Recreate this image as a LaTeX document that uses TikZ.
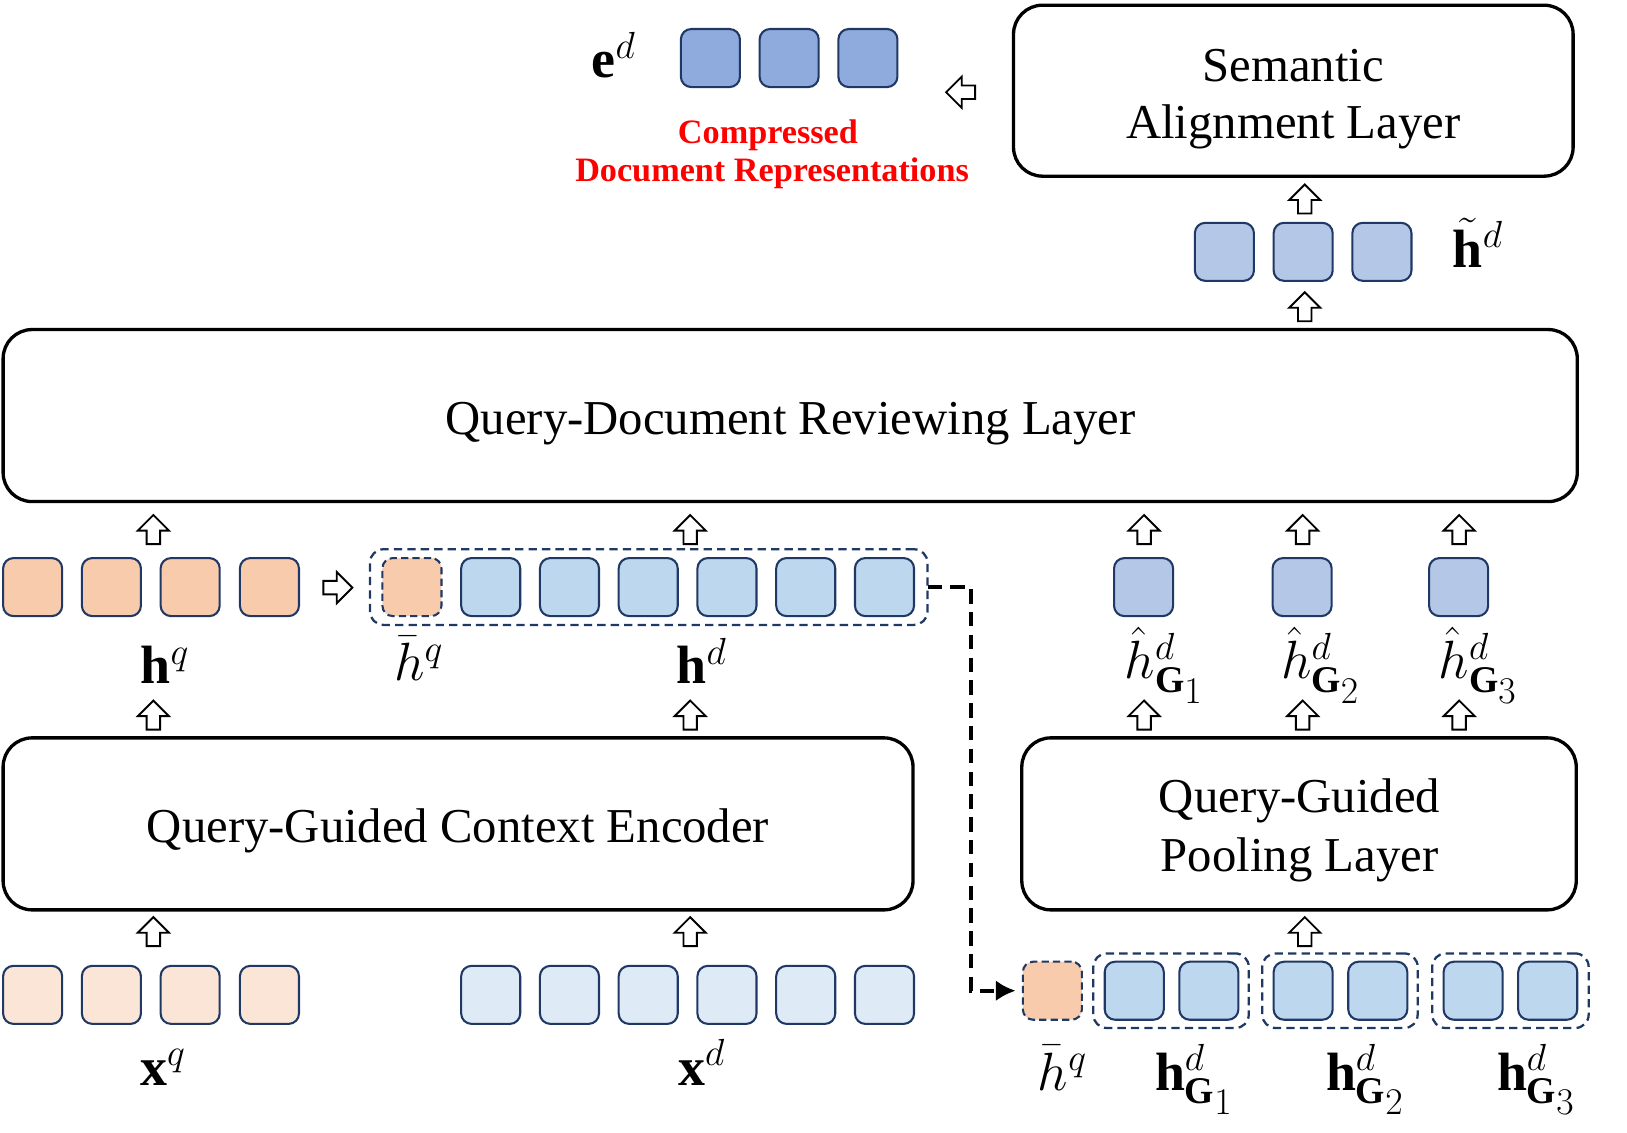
\RequirePackage{fix-cm}
\documentclass[tikz,border=0pt]{standalone}
\usepackage{amsmath}
\usepackage{fontspec}
\setmainfont{Liberation Serif}
\usetikzlibrary{arrows.meta}
\definecolor{navy}{HTML}{203864}
\definecolor{orangeA}{HTML}{F8CBAD}
\definecolor{orangeB}{HTML}{FBE5D6}
\definecolor{blueA}{HTML}{BDD7EE}
\definecolor{blueB}{HTML}{DEEBF7}
\definecolor{blueC}{HTML}{B4C7E7}
\definecolor{blueD}{HTML}{8FAADC}
\newcommand{\grpsub}[1]{\mathbf{G}_{\scriptstyle #1}}
\tikzset{
  tok/.style={draw=navy, line width=2pt, rounded corners=10pt, minimum width=57pt, minimum height=56pt, inner sep=0pt, outer sep=0pt},
  tokd/.style={tok, dash pattern=on 7pt off 4pt},
  layer/.style={draw=black, line width=3.2pt, rounded corners=28pt, inner sep=0pt, outer sep=0pt},
  ltext/.style={font=\fontsize{47}{57}\selectfont, anchor=base, inner sep=0pt},
  grp/.style={draw=navy, line width=2.2pt, dash pattern=on 8pt off 5pt, rounded corners=13pt, inner sep=0pt, outer sep=0pt},
  lab/.style={font=\fontsize{52}{62}\selectfont, anchor=base, inner sep=0pt},
  redt/.style={font=\fontsize{33}{38}\selectfont\bfseries, text=red, anchor=base, inner sep=0pt},
  conn/.style={line width=3.6pt, dash pattern=on 14pt off 8pt, -{Latex[length=19pt,width=20pt]}},
  blk/.style={line width=1.8pt, fill=white, line join=miter, miter limit=10},
  uparr/.pic={\draw[blk] (-6.5,14) -- (-6.5,1) -- (-15,1) -- (0,-14) -- (15,1) -- (6.5,1) -- (6.5,14) -- cycle;},
  rightarr/.pic={\draw[blk] (-14,-6.5) -- (-1,-6.5) -- (-1,-15) -- (14,0) -- (-1,15) -- (-1,6.5) -- (-14,6.5) -- cycle;},
  leftarr/.pic={\draw[blk] (14,-6.5) -- (1,-6.5) -- (1,-15) -- (-14,0) -- (1,15) -- (1,6.5) -- (14,6.5) -- cycle;}
}
\begin{document}
\begin{tikzpicture}[x=1pt,y=-1pt]
\useasboundingbox (0,0) rectangle (1570,1093);
% ---------- layers ----------
\node[layer, minimum width=540pt, minimum height=165pt] (sal) at (1248,87.5) {};
\node[ltext] (salt1) at (1248,79) {Semantic};
\node[ltext] (salt2) at (1248,134) {Alignment Layer};
\node[layer, minimum width=1519pt, minimum height=166pt] (qdr) at (762.5,401) {};
\node[ltext] (qdrt) at (763,419) {Query-Document Reviewing Layer};
\node[layer, minimum width=878pt, minimum height=166pt] (enc) at (442,795) {};
\node[ltext] (enct) at (442,813) {Query-Guided Context Encoder};
\node[layer, minimum width=535pt, minimum height=166pt] (pool) at (1253.5,795) {};
\node[ltext] (poolt1) at (1254,784) {Query-Guided};
\node[ltext] (poolt2) at (1254,841) {Pooling Layer};
% ---------- top: compressed representations ----------
\foreach \i/\x in {1/685.5,2/761.5,3/837.5}
  \node[tok, fill=blueD] (ed\i) at (\x,56) {};
\node[lab] (edl) at (592,75) {$\mathbf{e}^{d}$};
\node[redt] (red1) at (741,138) {Compressed};
\node[redt] (red2) at (745,175) {Document Representations};
\pic (aL) at (927,89) {leftarr};
% ---------- h tilde ----------
\foreach \i/\x in {1/1181.5,2/1257.5,3/1333.5}
  \node[tok, fill=blueC] (ht\i) at (\x,243) {};
\node[lab] (htl) at (1426,258) {$\tilde{\mathbf{h}}^{d}$};
\pic (aT1) at (1259,192) {uparr};
\pic (aT2) at (1259,296) {uparr};
% ---------- h^q and h^d ----------
\foreach \i/\x in {1/31.5,2/107.5,3/183.5,4/260}
  \node[tok, fill=orangeA] (hq\i) at (\x,566.5) {};
\pic (aR) at (326,567) {rightarr};
\node[grp, minimum width=538pt, minimum height=73pt] (hdg) at (626,566.5) {};
\node[tokd, fill=orangeA] (hbar1) at (397.5,566.5) {};
\foreach \i/\x in {1/473.5,2/549.5,3/625.5,4/701.5,5/777.5,6/853.5}
  \node[tok, fill=blueA] (hd\i) at (\x,566.5) {};
\node[lab] (hql) at (159,660) {$\mathbf{h}^{q}$};
\node[lab] (hbl) at (404,657) {$\bar{h}^{q}$};
\node[lab] (hdl) at (677,660) {$\mathbf{h}^{d}$};
\foreach \x in {148,666} {
  \pic at (\x,511) {uparr};
  \pic at (\x,690) {uparr};
  \pic at (\x,899) {uparr};
}
% ---------- h hat ----------
\foreach \i/\x in {1/1103.5,2/1256.5,3/1407.5}
  \node[tok, fill=blueC] (hh\i) at (\x,566.5) {};
\node[lab] (hhl1) at (1123,655) {$\hat{h}^{d}_{\grpsub{1}}$};
\node[lab] (hhl2) at (1274,655) {$\hat{h}^{d}_{\grpsub{2}}$};
\node[lab] (hhl3) at (1426,655) {$\hat{h}^{d}_{\grpsub{3}}$};
\foreach \x in {1104,1257,1408} {
  \pic at (\x,511) {uparr};
  \pic at (\x,690) {uparr};
}
\pic (aP) at (1259,899) {uparr};
% ---------- inputs ----------
\foreach \i/\x in {1/31.5,2/107.5,3/183.5,4/260}
  \node[tok, fill=orangeB] (xq\i) at (\x,960) {};
\foreach \i/\x in {1/473.5,2/549.5,3/625.5,4/701.5,5/777.5,6/853.5}
  \node[tok, fill=blueB] (xd\i) at (\x,960) {};
\node[lab] (xql) at (157,1047) {$\mathbf{x}^{q}$};
\node[lab] (xdl) at (677,1047) {$\mathbf{x}^{d}$};
% ---------- grouped document ----------
\node[tokd, fill=orangeA] (hbar2) at (1015.5,956) {};
\node[grp, minimum width=150pt, minimum height=72pt] (g1) at (1130,956) {};
\node[grp, minimum width=150pt, minimum height=72pt] (g2) at (1293,956) {};
\node[grp, minimum width=151pt, minimum height=72pt] (g3) at (1457.5,956) {};
\foreach \i/\x in {1/1094.5,2/1166.5,3/1257.5,4/1329.5,5/1421.5,6/1493.5}
  \node[tok, fill=blueA] (gd\i) at (\x,956) {};
\node[lab] (hb2l) at (1025,1052) {$\bar{h}^{q}$};
\node[lab] (gl1) at (1152,1052) {$\mathbf{h}^{d}_{\grpsub{1}}$};
\node[lab] (gl2) at (1317,1052) {$\mathbf{h}^{d}_{\grpsub{2}}$};
\node[lab] (gl3) at (1482,1052) {$\mathbf{h}^{d}_{\grpsub{3}}$};
% ---------- dashed connector ----------
\draw[conn] (hdg.east) -- ++(42,0) |- ([xshift=-7pt]hbar2.west);
\end{tikzpicture}
\end{document}
